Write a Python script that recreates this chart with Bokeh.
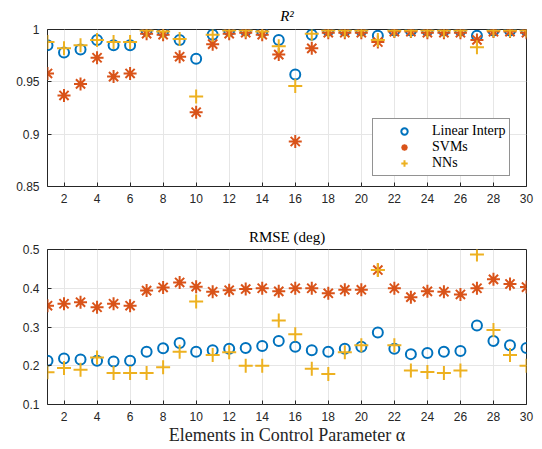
from bokeh.plotting import figure
from bokeh.layouts import column
from bokeh.models import FixedTicker, Legend, LegendItem, Range1d
from bokeh.embed import file_html
from bokeh.resources import INLINE

elements = list(range(1, 31))

r2_linear = [0.985, 0.978, 0.981, 0.990, 0.985, 0.985, 0.999, 0.998, 0.990, 0.972,
             0.995, 0.999, 0.999, 0.998, 0.990, 0.957, 0.995, 0.999, 0.999, 0.999,
             0.994, 0.999, 0.999, 0.999, 0.999, 0.999, 0.994, 0.999, 0.999, 0.999]
r2_svm = [0.958, 0.937, 0.948, 0.973, 0.955, 0.958, 0.996, 0.995, 0.974, 0.921,
          0.986, 0.996, 0.997, 0.995, 0.976, 0.893, 0.982, 0.997, 0.997, 0.997,
          0.988, 0.998, 0.998, 0.997, 0.997, 0.997, 0.990, 0.998, 0.998, 0.997]
r2_nn = [0.988, 0.982, 0.985, 0.990, 0.988, 0.988, 0.999, 0.998, 0.991, 0.936,
         0.995, 0.999, 0.999, 0.998, 0.984, 0.946, 0.996, 0.999, 0.999, 0.999,
         0.990, 0.999, 0.999, 0.999, 0.999, 0.999, 0.983, 0.999, 0.999, 0.999]

rmse_linear = [0.213, 0.219, 0.216, 0.213, 0.211, 0.213, 0.236, 0.245, 0.259, 0.236,
               0.240, 0.244, 0.246, 0.251, 0.264, 0.249, 0.240, 0.236, 0.244, 0.249,
               0.286, 0.244, 0.230, 0.233, 0.236, 0.238, 0.304, 0.264, 0.253, 0.246]
rmse_svm = [0.355, 0.360, 0.364, 0.351, 0.360, 0.355, 0.394, 0.402, 0.415, 0.404,
            0.391, 0.395, 0.398, 0.400, 0.392, 0.400, 0.400, 0.387, 0.396, 0.396,
            0.447, 0.400, 0.377, 0.392, 0.391, 0.384, 0.400, 0.423, 0.411, 0.403]
rmse_nn = [0.183, 0.194, 0.190, 0.221, 0.181, 0.181, 0.181, 0.196, 0.236, 0.366,
           0.228, 0.235, 0.200, 0.200, 0.317, 0.281, 0.192, 0.179, 0.235, 0.253,
           0.447, 0.253, 0.188, 0.184, 0.181, 0.188, 0.487, 0.292, 0.228, 0.200]

x_ticks = list(range(2, 31, 2))
r2_ticks = [0.85, 0.9, 0.95, 1.0]
r2_tick_labels = ["0.85", "0.9", "0.95", "1"]
rmse_ticks = [0.1, 0.2, 0.3, 0.4, 0.5]
rmse_tick_labels = ["0.1", "0.2", "0.3", "0.4", "0.5"]
series_names = ["Linear Interp", "SVMs", "NNs"]

BLUE = "#0072BD"
ORANGE = "#D95319"
YELLOW = "#EDB120"
DARK = "#262626"
GRID = "#e6e6e6"
SERIF = "Liberation Serif"
SANS = "Liberation Sans"


def make_fig(height, border_top, border_bottom, yr, yticks, ylabels, title, italic, valign):
    p = figure(width=534, height=height, output_backend="svg", toolbar_location=None,
               x_range=Range1d(1, 30), y_range=Range1d(*yr),
               min_border_left=47, min_border_right=8,
               min_border_top=border_top, min_border_bottom=border_bottom)
    p.title.text = title
    p.title.align = "center"
    p.title.vertical_align = valign
    p.title.text_font = SERIF
    p.title.text_font_size = "15px"
    p.title.text_font_style = "italic" if italic else "normal"
    p.title.text_color = "black"
    p.outline_line_color = DARK
    p.outline_line_width = 1
    p.background_fill_color = "white"
    p.border_fill_color = "white"
    p.xaxis.ticker = FixedTicker(ticks=x_ticks)
    p.yaxis.ticker = FixedTicker(ticks=yticks)
    p.yaxis.major_label_overrides = {t: l for t, l in zip(yticks, ylabels)}
    for ax in [p.below[0], p.left[0]]:
        ax.axis_line_color = None
        ax.major_tick_in = 4
        ax.major_tick_out = 0
        ax.major_tick_line_color = DARK
        ax.minor_tick_line_color = None
        ax.major_label_text_font = SANS
        ax.major_label_text_font_size = "12px"
        ax.major_label_text_color = DARK
    p.below[0].major_label_standoff = 7
    p.left[0].major_label_standoff = 8
    p.xgrid.grid_line_color = GRID
    p.ygrid.grid_line_color = GRID
    p.xgrid.ticker = FixedTicker(ticks=x_ticks)
    p.ygrid.ticker = FixedTicker(ticks=yticks)
    return p


def add_series(p, lin, svm, nn):
    r1 = p.scatter(elements, lin, marker="circle", size=10, fill_color=None,
                   line_color=BLUE, line_width=2)
    r2 = p.scatter(elements, svm, marker="asterisk", size=13,
                   line_color=ORANGE, line_width=2)
    r3 = p.scatter(elements, nn, marker="cross", size=14,
                   line_color=YELLOW, line_width=2)
    return [r1, r2, r3]


p1 = make_fig(208, 29, 22, (0.85, 1.0), r2_ticks, r2_tick_labels, "R²", True, "middle")
rs = add_series(p1, r2_linear, r2_svm, r2_nn)
legend = Legend(items=[LegendItem(label=n, renderers=[r]) for n, r in zip(series_names, rs)],
                location=(325, 10))
legend.border_line_color = DARK
legend.border_line_width = 1
legend.background_fill_color = "white"
legend.background_fill_alpha = 1
legend.label_text_font = SERIF
legend.label_text_font_size = "14px"
legend.label_text_color = "black"
legend.padding = 4
legend.margin = 0
legend.spacing = 0
legend.glyph_width = 54
legend.glyph_height = 16
legend.label_height = 16
legend.label_standoff = 1
p1.add_layout(legend)

p2 = make_fig(239, 41, 35, (0.1, 0.5), rmse_ticks, rmse_tick_labels, "RMSE (deg)", False, "bottom")
add_series(p2, rmse_linear, rmse_svm, rmse_nn)
xax = p2.below[0]
xax.axis_label = "Elements in Control Parameter α"
xax.axis_label_text_font = SERIF
xax.axis_label_text_font_size = "18px"
xax.axis_label_text_font_style = "normal"
xax.axis_label_text_color = DARK
xax.axis_label_standoff = 1

layout = column(p1, p2, spacing=0)
open("out.html", "w").write(file_html(layout, INLINE))
